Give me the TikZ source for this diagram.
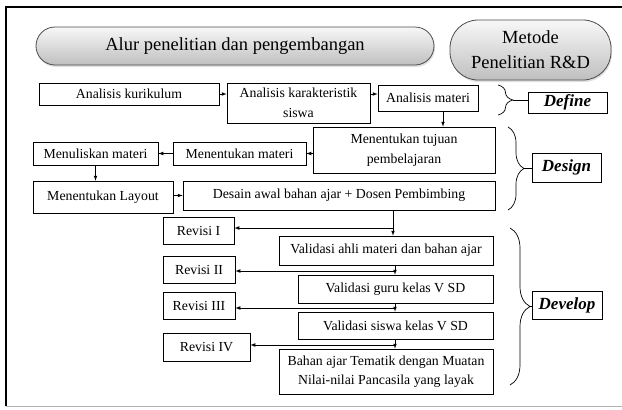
\documentclass[tikz,border=0pt]{standalone}
\usepackage{fontspec}
\setmainfont{Liberation Serif}
\usetikzlibrary{calc,positioning,arrows,shadows,decorations.pathreplacing}

\begin{document}
\begin{tikzpicture}[x=1pt, y=-1pt, >=latex,
                    box/.style={draw,line width=0.7pt,align=center,inner sep=1pt,font=\fontsize{13.8}{19.5}\selectfont},
                    pil/.style={draw=gray!60!black,line width=0.8pt,top color=gray!6,bottom color=gray!50,align=center,inner sep=2pt,font=\fontsize{18.5}{25}\selectfont,drop shadow={opacity=0.25,shadow xshift=1pt,shadow yshift=-2pt}},
                    lbl/.style={draw,line width=0.7pt,inner sep=1pt,font=\fontsize{17}{18}\selectfont\bfseries\itshape},
                    kurung/.style={decorate,line width=0.7pt,decoration={brace,amplitude=#1}}]
                      \useasboundingbox (0,0) rectangle (622,410);
                      \draw[line width=1.5pt] (6,406) -- (6,7) -- (625,7);
                      \draw[gray!60,line width=1pt] (6,406) -- (625,406);

                      \node[pil,rounded corners=19pt,minimum width=398pt,minimum height=38pt] (alur) at (235,46) {Alur penelitian dan pengembangan};
                      \node[pil,rounded corners=28pt,minimum width=161pt,minimum height=60pt] (metode) at (530.5,50) {Metode\\Penelitian R\&D};

                      \node[box,minimum width=180pt,minimum height=22pt] (kur) at (129,94) {Analisis kurikulum};
                      \node[box,minimum width=143pt,minimum height=40pt] (kar) at (298.5,103) {Analisis karakteristik\\siswa};
                      \node[box,minimum width=100pt,minimum height=26pt] (mat) at (428,98) {Analisis materi};

                      \node[box,minimum width=182pt,minimum height=46pt] (tuj) at (404,150) {Menentukan tujuan\\pembelajaran};
                      \node[box,minimum width=133pt,minimum height=23pt] (mtm) at (239.5,153.5) {Menentukan materi};
                      \node[box,minimum width=125pt,minimum height=23pt] (mls) at (95.5,153.5) {Menuliskan materi};
                      \node[box,minimum width=140pt,minimum height=32pt] (lay) at (103,197) {Menentukan Layout};
                      \node[box,minimum width=312pt,minimum height=29pt] (des) at (339,195.5) {Desain awal bahan ajar + Dosen Pembimbing};

                      \node[box,minimum width=71pt,minimum height=27pt] (rev1) at (198.5,230.5) {Revisi I};
                      \node[box,minimum width=72pt,minimum height=27pt] (rev2) at (199,269.5) {Revisi II};
                      \node[box,minimum width=72pt,minimum height=27pt] (rev3) at (199,305.5) {Revisi III};
                      \node[box,minimum width=87pt,minimum height=28pt] (rev4) at (206.5,347) {Revisi IV};

                      \node[box,minimum width=214pt,minimum height=29pt] (val1) at (386,250.5) {Validasi ahli materi dan bahan ajar};
                      \node[box,minimum width=195pt,minimum height=28pt] (val2) at (395.5,289) {Validasi guru kelas V SD};
                      \node[box,minimum width=195pt,minimum height=27pt] (val3) at (395.5,325.5) {Validasi siswa kelas V SD};
                      \node[box,minimum width=214pt,minimum height=45pt] (hasil) at (386,371.5) {Bahan ajar Tematik dengan Muatan\\Nilai-nilai Pancasila yang layak};

                      \node[lbl,minimum width=79pt,minimum height=21pt] (define) at (567.5,102.5) {Define};
                      \node[lbl,minimum width=69pt,minimum height=29pt] (design) at (566.5,167.5) {Design};
                      \node[lbl,minimum width=70pt,minimum height=28pt] (develop) at (567,305) {Develop};

                      \draw[->,line width=0.7pt] (kur.east) -- (kur.east -| kar.west);
                      \draw[->,line width=0.7pt] (kar.east |- kur.east) -- (mat.west |- kur.east);
                      \draw[->,line width=0.7pt] ([xshift=15pt]mat.south) -- ([xshift=15pt]mat.south |- tuj.north);
                      \draw[->,line width=0.7pt] (tuj.west |- mtm.east) -- (mtm.east);
                      \draw[->,line width=0.7pt] (mtm.west) -- (mls.east);
                      \draw[->,line width=0.7pt] (mls.south) -- (mls.south |- lay.north);
                      \draw[->,line width=0.7pt] (lay.east |- des.west) -- (des.west);

                      \coordinate (j1) at (393,228);
                      \coordinate (j2) at (395,271);
                      \coordinate (j3) at (395,308);
                      \coordinate (j4) at (395,345);
                      \draw[->,line width=0.7pt] (des.south -| j1) -- (j1 |- val1.north);
                      \draw[->,line width=0.7pt] (j1) -- (j1 -| rev1.east);
                      \draw[->,line width=0.7pt] (val1.south -| j2) -- (j2 |- val2.north);
                      \draw[->,line width=0.7pt] (j2) -- (j2 -| rev2.east);
                      \draw[->,line width=0.7pt] (val2.south -| j3) -- (j3 |- val3.north);
                      \draw[->,line width=0.7pt] (j3) -- (j3 -| rev3.east);
                      \draw[->,line width=0.7pt] (val3.south -| j4) -- (j4 |- hasil.north);
                      \draw[->,line width=0.7pt] (j4) -- (j4 -| rev4.east);

                      \coordinate (b1) at (498,85);
                      \coordinate (b2) at (498,115);
                      \coordinate (t1) at (513,100);
                      \coordinate (b3) at (508,127);
                      \coordinate (b4) at (508,210);
                      \coordinate (t2) at (524,168.5);
                      \coordinate (b5) at (510,228);
                      \coordinate (b6) at (510,385);
                      \coordinate (t3) at (530,306.5);
                      \draw[kurung=15pt] (b1) -- (b2);
                      \draw[kurung=16pt] (b3) -- (b4);
                      \draw[kurung=20pt] (b5) -- (b6);
                      \draw[line width=0.7pt] (t1) -- (t1 -| define.west);
                      \draw[line width=0.7pt] (t2) -- (t2 -| design.west);
                      \draw[line width=0.7pt] (t3) -- (t3 -| develop.west);
                    \end{tikzpicture}
\end{document}
